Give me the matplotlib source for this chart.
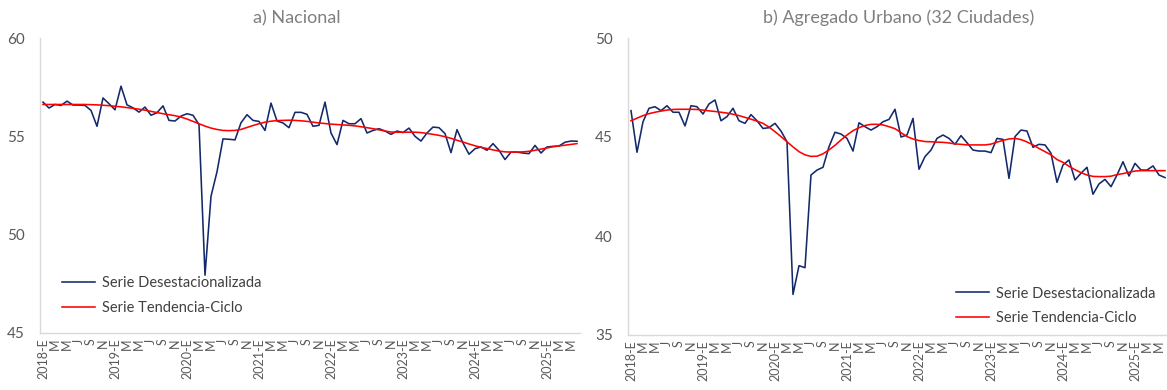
import matplotlib
matplotlib.use("Agg")
import matplotlib.pyplot as plt

# ---------------- data ----------------
years = [2018, 2019, 2020, 2021, 2022, 2023, 2024, 2025]
month_codes = ['E', 'F', 'M', 'A', 'M', 'J', 'J', 'A', 'S', 'O', 'N', 'D']
n_months = 90  # 2018-E ... 2025-Jun

nac_desest = [56.74, 56.44, 56.62, 56.57, 56.79, 56.59, 56.59, 56.57, 56.32, 55.51,
              56.95, 56.66, 56.35, 57.55, 56.60, 56.45, 56.23, 56.49, 56.07, 56.20,
              56.55, 55.81, 55.78, 56.03, 56.15, 56.07, 55.60, 47.94, 51.95, 53.20,
              54.87, 54.85, 54.82, 55.69, 56.10, 55.81, 55.76, 55.30, 56.69, 55.78,
              55.68, 55.44, 56.22, 56.22, 56.12, 55.51, 55.56, 56.74, 55.17, 54.58,
              55.81, 55.64, 55.64, 55.90, 55.17, 55.30, 55.39, 55.27, 55.10, 55.27,
              55.19, 55.42, 55.00, 54.76, 55.17, 55.47, 55.44, 55.14, 54.17, 55.34,
              54.66, 54.09, 54.37, 54.46, 54.29, 54.63, 54.29, 53.82, 54.20, 54.20,
              54.15, 54.12, 54.54, 54.15, 54.46, 54.49, 54.51, 54.70, 54.76, 54.75]

nac_tend = [56.62, 56.62, 56.62, 56.62, 56.62, 56.62, 56.62, 56.62, 56.61, 56.60,
            56.58, 56.56, 56.53, 56.50, 56.46, 56.42, 56.38, 56.33, 56.27, 56.21,
            56.15, 56.10, 56.05, 55.98, 55.88, 55.76, 55.64, 55.52, 55.42, 55.35,
            55.30, 55.29, 55.30, 55.35, 55.45, 55.55, 55.64, 55.72, 55.77, 55.80,
            55.81, 55.82, 55.81, 55.79, 55.76, 55.72, 55.68, 55.65, 55.62, 55.60,
            55.58, 55.56, 55.53, 55.49, 55.44, 55.39, 55.33, 55.27, 55.22, 55.21,
            55.21, 55.21, 55.21, 55.19, 55.15, 55.10, 55.05, 54.98, 54.90, 54.80,
            54.71, 54.61, 54.52, 54.44, 54.38, 54.31, 54.25, 54.21, 54.20, 54.20,
            54.21, 54.24, 54.29, 54.35, 54.41, 54.47, 54.51, 54.55, 54.59, 54.63]

urb_desest = [46.33, 44.23, 45.77, 46.45, 46.53, 46.33, 46.58, 46.25, 46.25, 45.56,
              46.58, 46.53, 46.16, 46.67, 46.87, 45.82, 46.03, 46.45, 45.82, 45.69,
              46.13, 45.82, 45.43, 45.47, 45.69, 45.30, 44.76, 37.05, 38.50, 38.40,
              43.08, 43.33, 43.47, 44.51, 45.24, 45.15, 44.93, 44.29, 45.72, 45.52,
              45.35, 45.52, 45.77, 45.89, 46.40, 45.00, 45.10, 45.94, 43.37, 44.01,
              44.34, 44.93, 45.10, 44.93, 44.63, 45.07, 44.71, 44.34, 44.29, 44.29,
              44.21, 44.93, 44.88, 42.91, 45.02, 45.35, 45.30, 44.48, 44.63, 44.60,
              44.18, 42.71, 43.59, 43.84, 42.83, 43.17, 43.47, 42.11, 42.63, 42.86,
              42.49, 43.08, 43.75, 43.03, 43.67, 43.33, 43.33, 43.54, 43.08, 42.95]

urb_tend = [45.82, 45.95, 46.08, 46.18, 46.25, 46.31, 46.36, 46.39, 46.40, 46.40,
            46.40, 46.39, 46.36, 46.32, 46.29, 46.25, 46.21, 46.15, 46.08, 45.99,
            45.90, 45.80, 45.69, 45.50, 45.27, 45.02, 44.76, 44.50, 44.26, 44.10,
            44.02, 44.03, 44.15, 44.35, 44.58, 44.85, 45.10, 45.32, 45.47, 45.58,
            45.64, 45.64, 45.61, 45.52, 45.42, 45.22, 45.02, 44.90, 44.82, 44.77,
            44.76, 44.74, 44.73, 44.70, 44.65, 44.63, 44.60, 44.60, 44.60, 44.60,
            44.64, 44.74, 44.83, 44.90, 44.93, 44.87, 44.75, 44.60, 44.42, 44.26,
            44.10, 43.86, 43.72, 43.52, 43.35, 43.20, 43.08, 43.01, 43.00, 43.00,
            43.02, 43.10, 43.15, 43.22, 43.28, 43.30, 43.30, 43.30, 43.30, 43.30]

titles = ["a) Nacional", "b) Agregado Urbano (32 Ciudades)"]
legend_labels = ["Serie Desestacionalizada", "Serie Tendencia-Ciclo"]
ylims = [(45, 60), (35, 50)]
yticks = [[45, 50, 55, 60], [35, 40, 45, 50]]

# ---------------- style ----------------
FONT = "Lato"
BLUE = "#13296b"
RED = "#ff0000"
GRAY_TXT = "#595959"
TITLE_CLR = "#7f7f7f"
AXIS_CLR = "#d9d9d9"

plt.rcParams['font.family'] = [FONT, 'DejaVu Sans']

W, H = 1167, 390
fig = plt.figure(figsize=(W / 100, H / 100), dpi=100)

# x tick labels
tick_pos = list(range(0, n_months, 2))
tick_lbl = []
for i in tick_pos:
    y = years[i // 12]
    m = i % 12
    tick_lbl.append(f"{y}-{month_codes[m]}" if m == 0 else month_codes[m])

x = list(range(n_months))

panels = [
    dict(rect=(40, 38, 580, 333), d=nac_desest, t=nac_tend,
         leg=(0.040, 0.194), lspace=0.80, title_x=297),
    dict(rect=(628, 38, 1168, 335), d=urb_desest, t=urb_tend,
         leg=(0.607, 0.163), lspace=0.72, title_x=899),
]

for k, p in enumerate(panels):
    x0, y0, x1, y1 = p['rect']
    ax = fig.add_axes([x0 / W, 1 - y1 / H, (x1 - x0) / W, (y1 - y0) / H])
    ax.plot(x, p['d'], color=BLUE, lw=1.15, label=legend_labels[0], zorder=3)
    ax.plot(x, p['t'], color=RED, lw=1.15, label=legend_labels[1], zorder=4)
    ax.set_xlim(-0.5, n_months - 0.5)
    ax.set_ylim(*ylims[k])
    ax.set_yticks(yticks[k])
    ax.set_xticks(tick_pos)
    ax.set_xticklabels(tick_lbl, rotation=90, fontsize=9, color=GRAY_TXT)
    ax.tick_params(axis='x', length=0, pad=4)
    ax.tick_params(axis='y', length=0, pad=11, labelsize=11, labelcolor=GRAY_TXT)
    for s in ['top', 'right']:
        ax.spines[s].set_visible(False)
    for s in ['left', 'bottom']:
        ax.spines[s].set_color(AXIS_CLR)
        ax.spines[s].set_linewidth(1.0)
    fig.text(p['title_x'] / W, 1 - 18 / H, titles[k], fontsize=13,
             color=TITLE_CLR, ha='center', va='center')
    ax.legend(loc='upper left', bbox_to_anchor=p['leg'], frameon=False,
              fontsize=10.5, handlelength=2.3, handletextpad=0.45,
              borderpad=0, borderaxespad=0, labelspacing=p['lspace'],
              labelcolor="#404040")

fig.savefig("out.png", dpi=100)
